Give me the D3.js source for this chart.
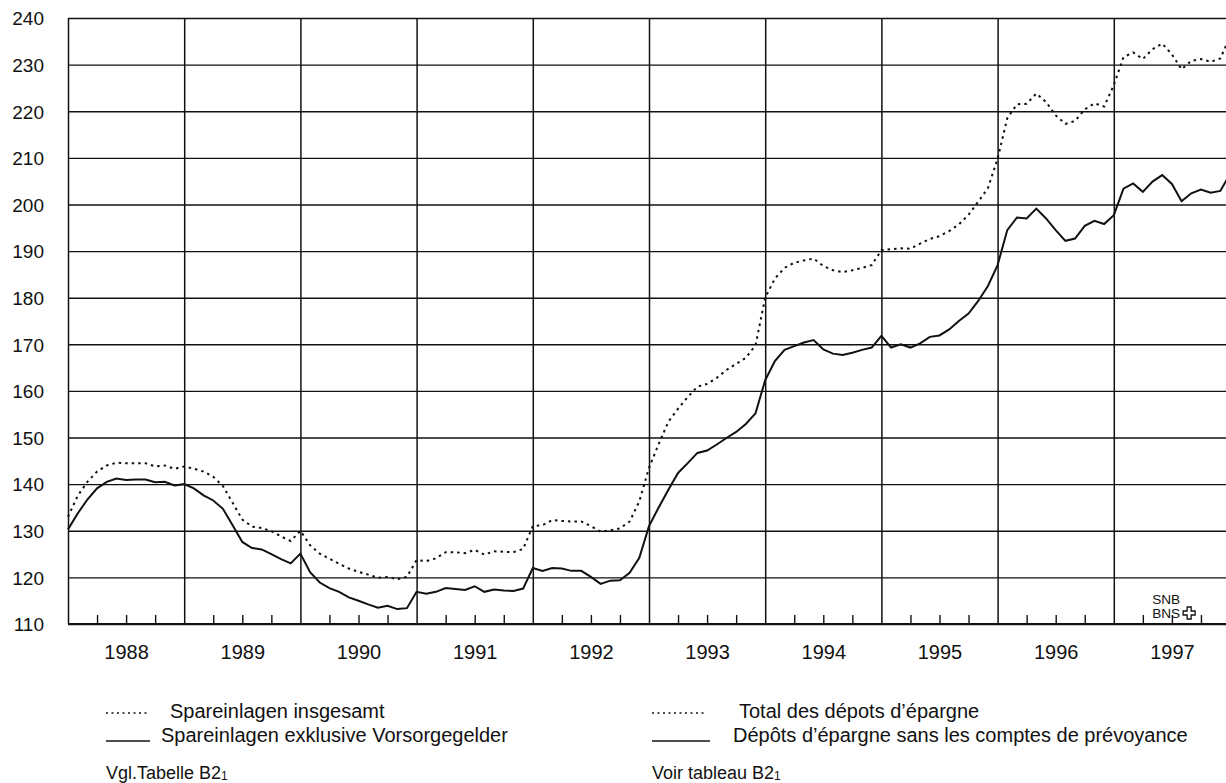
<!DOCTYPE html>
<html>
<head>
<meta charset="utf-8">
<script src="https://cdn.jsdelivr.net/npm/d3@7"></script>
<style>
body { margin: 0; background: #fff; }
text { font-family: "Liberation Sans", Arial, sans-serif; fill: #111; }
.domain { display: none; }
</style>
</head>
<body>
<div id="chart"></div>
<script>
// month-end values, Dec 1987 .. Dec 1997 (index 0 = end of 1987)
var insgesamt = [
    133.0,
    137.5, 140.5, 142.7, 144.0, 144.6, 144.5, 144.5, 144.5, 143.8, 144.0, 143.3, 143.8,
    143.3, 142.7, 141.6, 139.6, 136.0, 132.4, 130.9, 130.6, 129.9, 128.8, 127.8, 130.0,
    126.9, 125.1, 124.0, 122.9, 121.9, 121.2, 120.6, 119.9, 120.1, 119.6, 120.1, 123.7,
    123.5, 124.1, 125.4, 125.4, 125.2, 125.9, 124.9, 125.6, 125.5, 125.4, 126.1, 131.0,
    131.2, 132.3, 132.1, 132.0, 132.0, 131.0, 129.8, 130.1, 130.5, 132.0, 136.3, 143.5,
    148.6, 153.4, 156.2, 158.7, 160.9, 161.5, 162.8, 164.5, 165.8, 167.1, 169.8, 180.0,
    184.1, 186.4, 187.5, 188.0, 188.4, 186.8, 185.9, 185.5, 185.9, 186.4, 187.0, 190.2,
    190.4, 190.6, 190.5, 191.6, 192.6, 193.2, 194.3, 195.7, 197.8, 200.6, 203.5, 209.8,
    218.5, 221.5, 221.6, 223.8, 222.0, 219.1, 217.3, 217.9, 220.4, 221.7, 221.0, 225.6,
    231.6, 232.6, 231.2, 233.3, 234.5, 232.2, 229.0, 230.8, 231.2, 230.6, 231.3, 236.0
];
var exklVorsorge = [
    130.3,
    133.7, 136.7, 139.1, 140.5, 141.2, 140.9, 141.0, 141.0, 140.4, 140.5, 139.7, 140.0,
    139.1, 137.6, 136.5, 134.7, 131.2, 127.6, 126.3, 126.0, 125.0, 123.9, 123.0, 125.1,
    121.1, 118.9, 117.7, 116.9, 115.7, 115.0, 114.2, 113.5, 113.9, 113.2, 113.4, 116.9,
    116.5, 116.9, 117.7, 117.5, 117.3, 118.1, 116.9, 117.4, 117.2, 117.1, 117.6, 122.0,
    121.4, 122.0, 121.9, 121.4, 121.4, 120.1, 118.6, 119.3, 119.4, 121.0, 124.2, 131.0,
    135.0, 138.8, 142.4, 144.5, 146.7, 147.2, 148.5, 149.9, 151.2, 152.9, 155.2, 162.3,
    166.4, 168.8, 169.6, 170.4, 170.9, 168.9, 168.0, 167.7, 168.2, 168.8, 169.3, 171.8,
    169.3, 170.0, 169.3, 170.2, 171.6, 171.9, 173.2, 175.0, 176.6, 179.3, 182.5, 187.0,
    194.5, 197.2, 197.0, 199.1, 197.0, 194.5, 192.2, 192.7, 195.4, 196.5, 195.8, 197.7,
    203.4, 204.5, 202.7, 204.9, 206.3, 204.4, 200.7, 202.4, 203.2, 202.5, 202.9, 206.5
];
var years = [1988, 1989, 1990, 1991, 1992, 1993, 1994, 1995, 1996, 1997];
var yTicks = [110, 120, 130, 140, 150, 160, 170, 180, 190, 200, 210, 220, 230, 240];

var svgWidth = 1226;
var svgHeight = 783;
var margin = { top: 18, left: 68 };
var chartWidth = 1162;
var chartHeight = 606;

var svg = d3.select("#chart")
    .append("svg")
    .attr("width", svgWidth)
    .attr("height", svgHeight);

var chartGroup = svg.append("g")
    .attr("transform", `translate(${margin.left}, ${margin.top})`);

var xScale = d3.scaleLinear()
    .domain([1988, 1998])
    .range([0, chartWidth]);

var yScale = d3.scaleLinear()
    .domain([110, 240])
    .range([chartHeight, 0]);

// horizontal grid + left labels
var leftAxis = d3.axisLeft(yScale)
    .tickValues(yTicks)
    .tickSize(-chartWidth)
    .tickPadding(24);
var gy = chartGroup.append("g").call(leftAxis);
gy.selectAll("line").attr("stroke", "#111").attr("stroke-width", 1.4);
gy.selectAll("text").attr("font-size", "19px").attr("dy", "0.36em");

// year lines
var yearLines = d3.axisBottom(xScale)
    .tickValues(years)
    .tickSize(-chartHeight)
    .tickFormat("");
var gx = chartGroup.append("g")
    .attr("transform", `translate(0, ${chartHeight})`)
    .call(yearLines);
gx.selectAll("line").attr("stroke", "#111").attr("stroke-width", 1.5);

// quarterly ticks
var quarters = [];
years.forEach(function(y) { quarters.push(y + 0.25, y + 0.5, y + 0.75); });
var quarterAxis = d3.axisBottom(xScale)
    .tickValues(quarters)
    .tickSize(-9)
    .tickFormat("");
var gq = chartGroup.append("g")
    .attr("transform", `translate(0, ${chartHeight})`)
    .call(quarterAxis);
gq.selectAll("line").attr("stroke", "#111").attr("stroke-width", 1.4);

// bottom line
chartGroup.append("line")
    .attr("x1", 0).attr("x2", chartWidth)
    .attr("y1", chartHeight).attr("y2", chartHeight)
    .attr("stroke", "#111").attr("stroke-width", 2);

// year labels
var labelAxis = d3.axisBottom(xScale)
    .tickValues(years.map(function(y) { return y + 0.5; }))
    .tickSize(0)
    .tickPadding(21)
    .tickFormat(function(d) { return Math.floor(d); });
var gl = chartGroup.append("g")
    .attr("transform", `translate(0, ${chartHeight})`)
    .call(labelAxis);
gl.selectAll("text").attr("font-size", "20px");

// series
var line = d3.line()
    .x(function(d, i) { return xScale(1988 + i / 12); })
    .y(function(d) { return yScale(d); });

chartGroup.append("path")
    .datum(insgesamt)
    .attr("d", line)
    .attr("fill", "none")
    .attr("stroke", "#111")
    .attr("stroke-width", 2)
    .attr("stroke-dasharray", "2.5,4");

chartGroup.append("path")
    .datum(exklVorsorge)
    .attr("d", line)
    .attr("fill", "none")
    .attr("stroke", "#111")
    .attr("stroke-width", 2);

// SNB / BNS mark
var logo = chartGroup.append("g")
    .attr("transform", `translate(${xScale(1997.33)}, ${chartHeight - 30})`);
logo.append("text").attr("x", 0).attr("y", 10).attr("font-size", "12px")
    .attr("textLength", 28).attr("lengthAdjust", "spacingAndGlyphs").text("SNB");
logo.append("text").attr("x", 0).attr("y", 24).attr("font-size", "12px")
    .attr("textLength", 28).attr("lengthAdjust", "spacingAndGlyphs").text("BNS");
logo.append("path")
    .attr("d", "M35,13 h4 v4 h4 v4 h-4 v4 h-4 v-4 h-4 v-4 h4 z")
    .attr("fill", "none")
    .attr("stroke", "#111")
    .attr("stroke-width", 1.3);

// legend
var legend = svg.append("g");
var legendRows = [
    { x1: 106, x2: 150, tx: 170, y: 712, dash: "2,3.5", label: "Spareinlagen insgesamt" },
    { x1: 106, x2: 150, tx: 161, y: 736, dash: null, label: "Spareinlagen exklusive Vorsorgegelder" },
    { x1: 652, x2: 706, tx: 739, y: 712, dash: "2,3.5", label: "Total des dépots d\u2019épargne" },
    { x1: 652, x2: 710, tx: 733, y: 736, dash: null, label: "Dépôts d\u2019épargne sans les comptes de prévoyance" }
];
legendRows.forEach(function(r) {
    legend.append("line")
        .attr("x1", r.x1).attr("x2", r.x2)
        .attr("y1", r.dash ? r.y + 1 : r.y + 5).attr("y2", r.dash ? r.y + 1 : r.y + 5)
        .attr("stroke", "#111")
        .attr("stroke-width", 1.3)
        .attr("stroke-dasharray", r.dash);
    legend.append("text")
        .attr("x", r.tx).attr("y", r.y + 6)
        .attr("font-size", "20px")
        .text(r.label);
});

var notes = [
    { x: 106, label: "Vgl.Tabelle B2" },
    { x: 652, label: "Voir tableau B2" }
];
notes.forEach(function(n) {
    var t = legend.append("text")
        .attr("x", n.x).attr("y", 779)
        .attr("font-size", "18px")
        .text(n.label);
    t.append("tspan").attr("font-size", "12px").attr("dy", "1").text("1");
});
</script>
</body>
</html>
